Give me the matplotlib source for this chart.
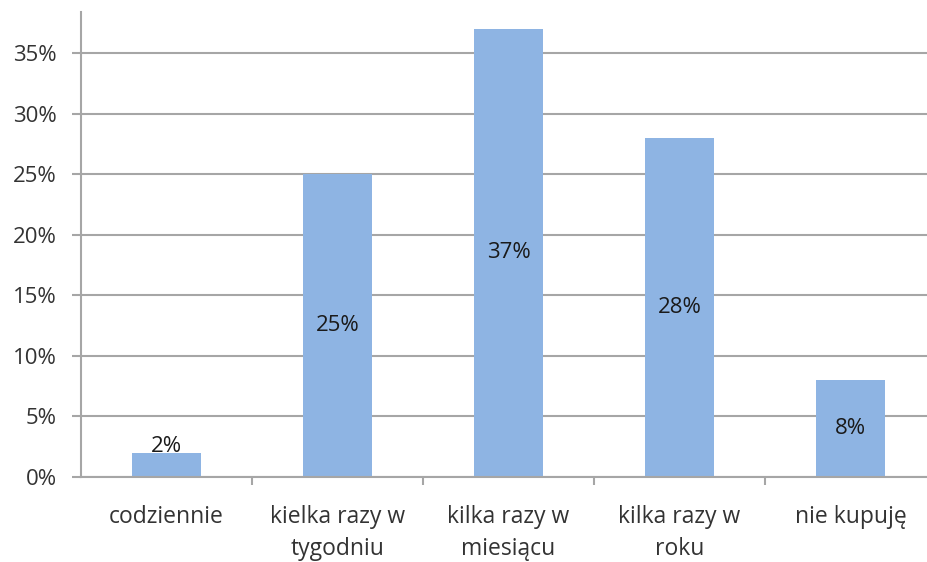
import numpy as np
import matplotlib.pyplot as plt
from matplotlib.ticker import FuncFormatter

categories = ['codziennie', 'kielka razy w\ntygodniu', 'kilka razy w\nmiesiącu', 'kilka razy w\nroku', 'nie kupuję']
values = [2, 25, 37, 28, 8]
yticks = [0, 5, 10, 15, 20, 25, 30, 35]

bar_color = '#8EB4E3'
grid_color = '#A6A6A6'
text_color = '#333333'

plt.rcParams['font.family'] = ['Open Sans', 'DejaVu Sans']

fig = plt.figure(figsize=(9.28, 5.62), dpi=100)
# axes: left 81px, bottom at y=477, top at y=12, right past the image edge
ax = fig.add_axes([81 / 928, (562 - 477) / 562, 855 / 928, 465 / 562])

x = np.arange(len(categories))
ax.bar(x, values, width=0.4, color=bar_color, zorder=2)

ax.set_xlim(-0.5, len(categories) - 0.5)
ax.set_ylim(0, 38.4)
ax.set_yticks(yticks)
ax.yaxis.set_major_formatter(FuncFormatter(lambda v, p: '%d%%' % v))
ax.grid(axis='y', color=grid_color, linewidth=1.5, zorder=0)

for s in ['top', 'right']:
    ax.spines[s].set_visible(False)
for s in ['left', 'bottom']:
    ax.spines[s].set_color(grid_color)
    ax.spines[s].set_linewidth(1.5)

# category labels between boundary ticks
ax.set_xticks(x)
ax.set_xticklabels(categories, fontsize=16.5, color=text_color, linespacing=1.45)
ax.tick_params(axis='x', length=0, pad=20)
ax.set_xticks(np.arange(0.5, len(categories) - 0.5, 1), minor=True)
ax.tick_params(axis='x', which='minor', length=6, width=1.5, color=grid_color)
ax.tick_params(axis='y', length=6.5, width=1.5, color=grid_color, labelsize=16, labelcolor=text_color, pad=11)

for xi, v in zip(x, values):
    ax.text(xi, max(v / 2, 2.5), '%d%%' % v, ha='center', va='center', fontsize=16, color='#1a1a1a', zorder=3)

fig.savefig('out.png', dpi=100)
